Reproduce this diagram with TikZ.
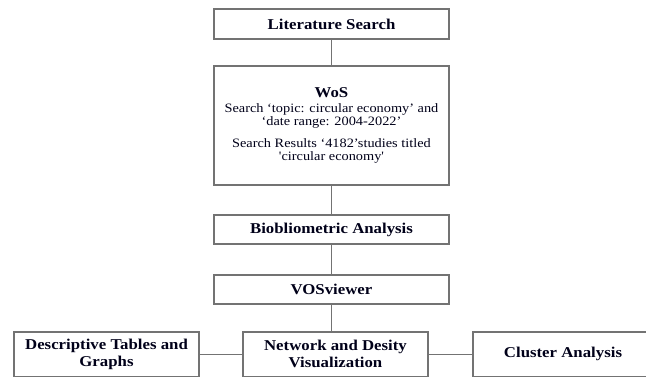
\documentclass[tikz,border=0pt]{standalone}
\usepackage{fontspec}
\setmainfont{Liberation Serif}[FakeStretch=1.12]
\newcommand{\sq}{{\addfontfeatures{Ligatures=TeXOff}'}}
\begin{document}
\begin{tikzpicture}[x=1pt,y=1pt,
  box/.style={draw=black!55, line width=1.3pt, rectangle, inner sep=0pt, align=center, text=black!90!blue},
  bt/.style={font=\fontsize{15}{17}\selectfont\bfseries},
  conn/.style={draw=black!55, line width=1.1pt}]
\useasboundingbox (0,0) rectangle (646,377);
\clip (0,0) rectangle (646,377);
\fill[white] (0,0) rectangle (646,377);
\node[box,bt,minimum width=235,minimum height=30] (lit) at (331.5,353) {Literature Search};
\node[box,minimum width=235,minimum height=119,font=\fontsize{12.8}{13.5}\selectfont] (wos) at (331.5,251.5) {%
  {\fontsize{15}{17}\selectfont\bfseries WoS}\\[1pt]
  Search ‘topic: circular economy’ and\\
  ‘date range: 2004-2022’\\[8pt]
  Search Results ‘4182’studies titled\\
  \sq circular economy\sq};
\node[box,bt,minimum width=235,minimum height=29] (bib) at (331.5,147.5) {Biobliometric Analysis};
\node[box,bt,minimum width=235,minimum height=29] (vos) at (331.5,87.5) {VOSviewer};
\node[box,bt,minimum width=185,minimum height=44.5] (net) at (335.5,22.75) {Network and Desity\\Visualization};
\node[box,bt,minimum width=185,minimum height=44.5] (desc) at (106.5,22.75) {Descriptive Tables and\\Graphs};
\node[box,bt,minimum width=180,minimum height=44.5] (clu) at (563,22.75) {Cluster Analysis};
\draw[conn] (lit.south) -- (wos.north);
\draw[conn] (wos.south) -- (bib.north);
\draw[conn] (bib.south) -- (vos.north);
\draw[conn] (vos.south) -- (vos.south |- net.north);
\draw[conn] (desc.east) -- (net.west);
\draw[conn] (net.east) -- (clu.west);
\end{tikzpicture}
\end{document}
